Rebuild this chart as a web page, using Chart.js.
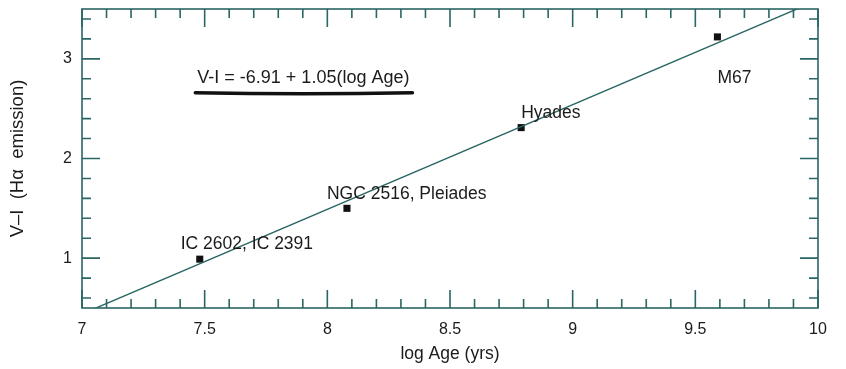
<!DOCTYPE html>
<html lang="en">
<head>
<meta charset="UTF-8">
<script src="https://cdn.jsdelivr.net/npm/chart.js"></script>
<title>V-I vs log Age</title>
<style>
  html, body { margin: 0; padding: 0; background: #fff; }
  .chart-container { width: 846px; height: 369px; position: relative; }
</style>
</head>
<body>
<div class="chart-container">
  <canvas id="myChart"></canvas>
</div>
<script>
  // clusters: name, log age, V-I
  const clusters = ['IC 2602, IC 2391', 'NGC 2516, Pleiades', 'Hyades', 'M67'];
  const logAge = [7.48, 8.08, 8.79, 9.59];
  const colorVI = [0.99, 1.50, 2.31, 3.22];

  // fit: V-I = a + b (log Age)
  const fitA = -6.91;
  const fitB = 1.05;
  const fitX = [7, 10];

  const xTicks = [7, 7.5, 8, 8.5, 9, 9.5, 10];
  const yTicks = [1, 2, 3];

  // label offsets from each point (px)
  const labelOffset = [[-19, -15], [-20, -14], [0, -14], [0, 41]];

  const teal = '#2a6663';
  const ink = '#1b1b1b';
  const font = '"Liberation Sans", Arial, sans-serif';

  const ctx = document.getElementById('myChart').getContext('2d');

  // frame with inward ticks on all four sides
  const frame = {
    id: 'frame',
    afterDatasetsDraw(chart) {
      const { ctx, chartArea: a, scales: { x, y } } = chart;
      ctx.save();
      ctx.strokeStyle = teal;
      ctx.lineWidth = 1.6;
      ctx.strokeRect(a.left, a.top, a.right - a.left, a.bottom - a.top);
      ctx.beginPath();
      for (let i = 0; i <= 30; i++) {
        const v = 7 + i * 0.1;
        const px = x.getPixelForValue(v);
        const len = i % 5 === 0 ? 18 : 9;
        ctx.moveTo(px, a.bottom); ctx.lineTo(px, a.bottom - len);
        ctx.moveTo(px, a.top); ctx.lineTo(px, a.top + len);
      }
      for (let i = 0; i <= 15; i++) {
        const v = 0.6 + i * 0.2;
        if (v > 3.5) break;
        const py = y.getPixelForValue(v);
        const major = Math.abs(v - Math.round(v)) < 1e-6;
        const len = major ? 18 : 9;
        ctx.moveTo(a.left, py); ctx.lineTo(a.left + len, py);
        ctx.moveTo(a.right, py); ctx.lineTo(a.right - len, py);
      }
      ctx.stroke();

      // cluster names
      ctx.fillStyle = ink;
      ctx.font = '17.5px ' + font;
      ctx.textBaseline = 'middle';
      clusters.forEach((name, i) => {
        const px = x.getPixelForValue(logAge[i]) + labelOffset[i][0];
        const py = y.getPixelForValue(colorVI[i]) + labelOffset[i][1];
        ctx.fillText(name, px, py);
      });

      // fit equation with underline
      ctx.font = '18px ' + font;
      const ex = x.getPixelForValue(7.47);
      const ey = y.getPixelForValue(2.81);
      const eq = 'V-I = ' + fitA.toFixed(2) + ' + ' + fitB.toFixed(2) + '(log Age)';
      ctx.fillText(eq, ex, ey);
      const w = ctx.measureText(eq).width;
      ctx.strokeStyle = '#111';
      ctx.lineWidth = 3.5;
      ctx.lineCap = 'round';
      ctx.beginPath();
      ctx.moveTo(ex - 2, ey + 15);
      ctx.quadraticCurveTo(ex + w / 2, ey + 17, ex + w + 3, ey + 15);
      ctx.stroke();
      ctx.restore();
    }
  };

  new Chart(ctx, {
    type: 'scatter',
    data: {
      datasets: [
        {
          label: 'fit',
          type: 'line',
          data: fitX.map(v => ({ x: v, y: fitA + fitB * v })),
          borderColor: teal,
          borderWidth: 1.4,
          pointRadius: 0,
          fill: false,
          clip: 0
        },
        {
          label: 'clusters',
          data: logAge.map((v, i) => ({ x: v, y: colorVI[i] })),
          pointStyle: 'rect',
          pointRadius: 5,
          backgroundColor: '#111',
          borderColor: '#111',
          borderWidth: 0
        }
      ]
    },
    options: {
      responsive: true,
      maintainAspectRatio: false,
      animation: false,
      layout: { padding: { top: 9, right: 28, left: 0, bottom: 0 } },
      plugins: { legend: { display: false }, tooltip: { enabled: false } },
      scales: {
        x: {
          type: 'linear',
          min: 7,
          max: 10,
          afterBuildTicks: s => { s.ticks = xTicks.map(v => ({ value: v })); },
          afterFit: s => { s.height = 61; },
          grid: { display: false },
          border: { display: false },
          ticks: { color: ink, font: { family: font, size: 16 }, padding: 4, maxRotation: 0, callback: v => String(v) },
          title: { display: true, text: 'log Age (yrs)', color: ink, font: { family: font, size: 17.5 }, padding: { top: 2 } }
        },
        y: {
          type: 'linear',
          min: 0.5,
          max: 3.5,
          afterBuildTicks: s => { s.ticks = yTicks.map(v => ({ value: v })); },
          afterFit: s => { s.width = 82; s.paddingTop = 0; s.paddingBottom = 0; },
          grid: { display: false },
          border: { display: false },
          ticks: { color: ink, font: { family: font, size: 16 }, padding: 2 },
          title: { display: true, text: 'V\u2013I  (H\u03b1  emission)', color: ink, font: { family: font, size: 18.5 }, padding: { bottom: 0, top: 7 } }
        }
      }
    },
    plugins: [frame]
  });
</script>
</body>
</html>
